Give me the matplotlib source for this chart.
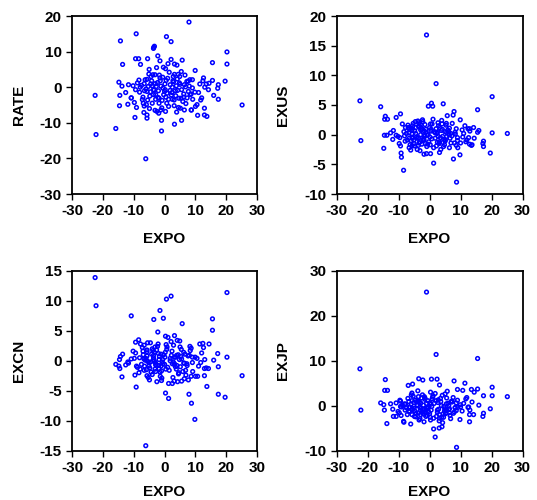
import matplotlib
matplotlib.use("Agg")
import matplotlib.pyplot as plt

plt.rcParams['font.family'] = ['Liberation Sans', 'DejaVu Sans']
plt.rcParams['font.weight'] = 'bold'
plt.rcParams['axes.unicode_minus'] = False

# export growth vs. rate / exchange rate changes
EXPO = [-22.5, -22.2, 25.1, 20.2, 20.2, 19.6, -1.0, 2.1, 15.5, -6.1,
        7.9, 8.7, 9.8, -9.2, -14.3, 0.6, -15.8, -10.8, -3.5, -3.3,
        -3.6, -13.6, -9.4, -8.4, -5.5, -2.2, -7.8, -1.5, 2.1, 5.7,
        3.2, 4.0, -5.0, 9.9, -0.4, 0.3, -14.8, -13.8, -11.7, -8.3,
        -14.5, -14.6, -11.9, -10.8, -9.8, -9.1, -9.6, -6.9, -6.6, -6.7,
        -5.7, -5.7, -1.0, 3.2, 5.5, 12.9, 12.9, 13.7, 10.7, 17.4,
        17.2, 17.4, 15.9, 15.5, 14.4, 13.5, 12.4, 12.6, 11.4, 14.2,
        11.7, 10.0, 8.6, 6.4, 10.5, 8.6, 9.1, 9.0, 8.2, 9.0,
        7.6, 5.4, 4.9, 4.4, 3.2, 2.8, 4.1, 3.1, 4.5, 5.1,
        6.9, 6.2, 5.3, 6.2, 1.3, 0.3, -1.2, -2.5, -3.1, -1.9,
        -4.9, -5.9, -5.5, -7.0, -9.4, -7.9, -8.1, -6.5, -5.7, -4.6,
        -6.3, -5.7, -4.4, -5.1, -3.8, -3.1, -1.7, -1.4, -2.3, -4.5,
        -4.0, -2.7, -3.6, -2.9, -1.8, -2.9, -3.6, -0.3, 0.4, 1.3,
        0.8, 1.8, 2.4, -0.5, 0.1, 0.5, 1.0, 1.8, 2.5, 3.8,
        4.2, 3.6, 4.6, 5.5, 6.4, 7.2, 7.7, 8.3, 3.1, 2.5,
        -1.8, -0.8, -7.5, -6.0, -4.8, -4.2, -3.0, -2.0, -1.2, -0.6,
        0.0, 0.7, 1.5, 2.2, 2.9, 3.5, 4.8, 5.9, 6.6, 7.3,
        8.0, -7.2, -8.8, -10.2, -12.6, -2.6, -0.9, 1.1, 3.9, -4.0,
        -1.5, 0.2, 11.0, 12.0, 13.0, -5.3, -2.1, 2.7, 5.0, 6.8,
        -6.6, -3.4]

RATE = [-2.3, -13.3, -5.0, 9.9, 6.5, 1.7, -12.3, 12.8, 6.9, -20.1,
        18.3, -6.4, -1.4, 15.0, 13.0, 14.2, -11.6, -3.0, 11.2, 11.5,
        10.9, 6.4, 8.0, 8.0, 8.0, 8.8, 6.4, 7.4, 7.8, 7.6,
        6.5, 6.2, 5.0, 4.7, 5.6, 5.2, 1.4, 0.3, 0.7, 2.0,
        -2.3, -5.2, -4.8, -3.0, -4.3, -5.7, -8.5, -4.5, -5.3, -7.1,
        -8.7, -7.8, -9.3, -10.4, -9.3, -5.9, -7.8, -8.2, -7.9, -3.4,
        -0.3, 0.7, -2.3, 1.9, 1.1, 0.9, 1.8, 2.6, 0.9, -0.7,
        -3.6, -5.4, -6.4, -6.4, -4.9, -1.9, -3.4, -0.2, 2.1, 2.1,
        1.7, 4.4, 3.0, 3.6, 3.6, 3.0, 2.3, -5.2, -5.7, -5.9,
        -4.6, -2.8, -3.1, -1.9, -5.4, -6.8, -6.4, -6.8, -6.5, -7.3,
        -6.0, -4.9, -3.6, -2.8, -0.7, 0.0, -1.4, -1.0, -1.2, -1.3,
        2.1, 2.2, 3.0, 3.7, 3.5, 3.5, 3.4, 1.8, 1.3, 0.9,
        0.4, 0.2, -0.7, -2.1, -3.1, -3.4, -2.1, -2.1, -2.8, -3.4,
        -1.7, -0.9, -1.5, -0.3, 0.9, 1.9, 2.5, 0.7, 0.0, 0.4,
        -0.9, -2.4, -3.1, -0.7, 0.7, 1.6, -1.2, -2.1, -3.6, -3.4,
        -4.5, -3.7, 0.5, -0.5, -2.5, 1.8, 1.0, -1.0, 0.3, 2.8,
        -1.2, -4.5, 4.2, -2.2, 1.5, -1.0, 1.2, -4.0, 3.4, -3.0,
        0.3, -3.5, 1.2, 0.4, -1.5, 5.5, -5.8, 6.6, -7.0, -4.5,
        2.6, -0.7, -1.5, -3.0, 0.0, 0.2, -2.9, 1.8, 0.8, 0.1,
        1.0, -0.8]

EXUS = [5.7, -1.0, 0.2, 6.4, 0.3, -3.1, 16.8, 8.6, 4.2, -2.6,
        3.9, -8.0, -3.4, -3.1, 3.1, 5.3, 4.7, 2.9, 2.0, 1.4,
        -0.6, 2.6, -1.9, -6.0, 1.5, 2.2, 1.2, 1.7, 1.0, 3.2,
        -3.0, 1.8, -1.5, 2.5, 4.8, 1.8, -2.3, -0.1, 0.7, 0.5,
        2.6, -0.1, -0.8, -0.1, -1.5, -3.8, -0.5, 1.2, -2.2, 0.3,
        -1.9, 0.8, -3.2, -1.2, -0.3, 1.0, -1.6, -1.7, -0.4, -1.1,
        -1.5, -2.0, 0.7, 0.4, -0.6, -1.8, 1.0, -0.5, 1.5, 1.2,
        -1.2, -1.4, -1.8, -2.2, 0.8, 1.0, -2.2, -0.5, 0.4, -1.0,
        3.3, 1.9, 0.5, 5.2, 1.2, -0.3, 0.9, -1.5, -2.0, -0.9,
        -1.4, 0.0, 1.6, 0.5, -4.8, -3.2, 0.4, -1.6, -2.7, -0.6,
        -1.9, 1.1, -0.6, 1.6, 3.5, -1.1, -0.2, 0.9, -0.4, 2.2,
        -1.7, 0.1, 1.2, -0.9, 2.3, -1.2, 0.6, -1.5, 2.5, 0.2,
        -0.6, 1.0, -1.8, 0.8, -0.9, 0.0, 1.4, -1.2, 0.6, -2.2,
        1.8, -0.6, 0.2, 0.0, -0.4, 0.9, 4.8, 0.3, -1.3, 0.7,
        -0.3, -2.5, -0.8, 0.4, 1.1, -0.2, -4.1, 0.1, -1.4, 0.4,
        -3.3, -0.1, 0.2, -1.0, 0.6, -0.4, 1.7, -0.8, 0.9, -1.6,
        1.2, -0.7, 0.5, -1.9, 1.5, -0.5, -1.7, 0.8, -0.6, 1.9,
        -1.4, -0.9, 1.8, -0.3, 0.3, 1.1, -2.0, 2.6, 2.4, -2.5,
        -0.2, -1.7, 0.2, -0.9, 0.6, 1.9, 0.4, 2.0, -1.1, 0.2,
        -0.6, -1.4]

EXCN = [13.9, 9.2, -2.5, 11.4, 0.6, -6.1, -3.3, 10.8, 7.0, -14.2,
        -5.6, -7.1, -9.8, -4.4, 0.7, 10.3, -0.6, 7.5, 6.9, 1.4,
        0.5, 1.1, 3.1, 3.5, 3.0, 4.8, 2.8, 8.4, 3.2, 6.2,
        4.2, -0.8, -0.3, 0.6, 7.1, 4.1, -0.9, -2.7, -0.4, -2.0,
        -1.3, 0.2, -0.2, 0.3, 0.4, -0.9, -2.4, 1.0, -1.6, 0.3,
        -2.5, 1.8, -1.7, -0.5, -3.4, -1.3, -2.5, -4.3, -2.6, -5.6,
        1.2, -1.0, 0.1, 5.1, 2.8, -1.2, 2.9, 2.2, 2.8, -1.3,
        -0.3, -2.6, -2.6, -3.0, 0.4, 2.1, -1.8, 0.6, 2.4, -0.3,
        0.8, 1.9, 3.3, 1.0, 0.6, -0.2, 3.4, -0.6, -2.2, -1.0,
        -2.4, -0.4, 0.7, 1.4, -3.8, -5.4, 1.1, -3.5, 2.3, -0.8,
        -3.2, -1.5, -0.1, 1.6, 1.3, -1.4, 0.5, -0.9, 0.8, 3.0,
        0.1, 1.5, -1.9, -0.9, 1.7, -1.4, 0.7, -2.6, 2.4, -0.2,
        2.0, -0.6, 0.9, -1.8, 0.2, -0.7, 0.2, 1.0, -1.4, -6.3,
        2.3, 0.0, 1.6, -0.5, 0.6, 2.7, -1.1, 0.4, -0.5, -1.4,
        -3.5, 0.6, -2.0, 0.3, -0.4, -0.5, -3.2, 1.7, -3.4, -3.8,
        -1.3, -0.2, -0.6, 0.4, -1.2, 1.1, -0.3, 1.2, -0.9, 0.2,
        -0.6, 1.9, -1.6, 0.9, 2.6, -1.0, 0.2, -1.8, 1.1, -0.8,
        0.9, 2.2, -1.1, 1.6, -0.7, 1.8, -2.9, 3.9, 0.9, -2.3,
        -1.9, 1.4, -0.9, 1.3, 0.2, -2.8, 2.8, -2.8, 2.3, -1.6,
        2.6, 0.0]

EXJP = [8.2, -1.0, 2.0, 4.1, 2.2, -0.7, 25.3, 11.4, 10.5, -4.1,
        5.5, -9.3, -3.1, -2.2, 5.8, 5.9, 0.6, -2.4, 6.0, 0.8,
        2.0, 3.4, 1.0, -3.5, 4.8, 5.7, 0.3, 1.4, 1.1, 3.2,
        4.6, -4.7, -0.6, 0.2, -0.5, 3.0, 0.2, -4.0, -2.4, -3.7,
        3.4, -1.0, -0.8, 0.6, -1.6, -0.3, 1.2, 4.5, -1.2, 0.9,
        -2.0, 2.8, 0.5, -2.0, -1.0, -2.0, -3.6, 0.8, 3.4, -1.7,
        -2.4, 2.2, 0.1, 3.7, 3.0, 3.6, -0.4, -0.3, 5.0, -2.0,
        1.5, -0.3, -1.1, -1.6, -1.2, 0.6, -0.4, 1.2, -0.5, 3.6,
        1.8, 0.4, -0.7, -1.8, -2.8, 1.3, 2.3, -3.4, -2.6, -1.8,
        0.9, -0.9, -1.6, 0.0, -5.2, -3.2, -2.4, -1.5, -2.9, -1.9,
        -2.4, 2.4, -0.7, 1.6, -0.2, -1.0, 0.4, -1.4, -0.9, 1.2,
        -0.3, 1.1, -1.7, 0.7, 3.3, -0.4, 2.0, -1.3, 2.4, -2.5,
        0.2, -0.6, -1.6, 0.6, -0.8, -2.0, 1.0, -1.4, 0.3, -2.8,
        1.5, -7.0, 5.9, -0.3, 0.6, -1.0, 1.9, 2.7, -1.5, 0.0,
        -3.8, 0.9, -0.2, 1.7, -0.7, 0.8, -1.7, -0.4, -5.0, -1.0,
        -3.6, -2.2, -0.5, 0.3, -1.2, 0.9, -1.0, 0.1, -0.9, 1.1,
        -1.8, -0.2, 0.5, -2.4, -0.8, 1.6, -1.2, 0.5, -2.2, 1.0,
        -1.4, -2.0, 0.1, -1.3, 0.4, 1.7, -0.5, 2.2, -2.6, 0.0,
        1.7, -2.6, 0.5, 1.8, -1.0, 2.1, -1.7, 0.7, 2.6, -2.9,
        -0.4, -3.2]

panels = [
    ("RATE", RATE, (-30, 20), [-30, -20, -10, 0, 10, 20]),
    ("EXUS", EXUS, (-10, 20), [-10, -5, 0, 5, 10, 15, 20]),
    ("EXCN", EXCN, (-15, 15), [-15, -10, -5, 0, 5, 10, 15]),
    ("EXJP", EXJP, (-10, 30), [-10, 0, 10, 20, 30]),
]

# axes boxes in figure fractions
boxes = [
    [0.134, 0.612, 0.345, 0.356],
    [0.627, 0.612, 0.346, 0.356],
    [0.134, 0.099, 0.345, 0.359],
    [0.627, 0.099, 0.346, 0.359],
]

fig = plt.figure(figsize=(5.37, 5.0), dpi=100)

for i, ((name, vals, ylim, yticks), box) in enumerate(zip(panels, boxes)):
    ax = fig.add_axes(box)
    ax.scatter(EXPO, vals, s=7, facecolors='none', edgecolors='#0000ff',
               linewidths=1.1)
    ax.set_xlim(-30, 30)
    ax.set_ylim(*ylim)
    ax.set_xticks([-30, -20, -10, 0, 10, 20, 30])
    ax.set_yticks(yticks)
    ax.tick_params(direction='out', length=4, width=1, labelsize=11)
    for lab in ax.get_xticklabels() + ax.get_yticklabels():
        lab.set_fontweight('bold')
    for sp in ax.spines.values():
        sp.set_linewidth(1.3)
    # bottom row sits close to the figure edge
    pad = 10 if i < 2 else 7
    ax.set_xlabel("EXPO", fontsize=11, fontweight='bold', labelpad=pad)
    ax.set_ylabel(name, fontsize=11, fontweight='bold', labelpad=10)

fig.savefig("out.png", dpi=100)
